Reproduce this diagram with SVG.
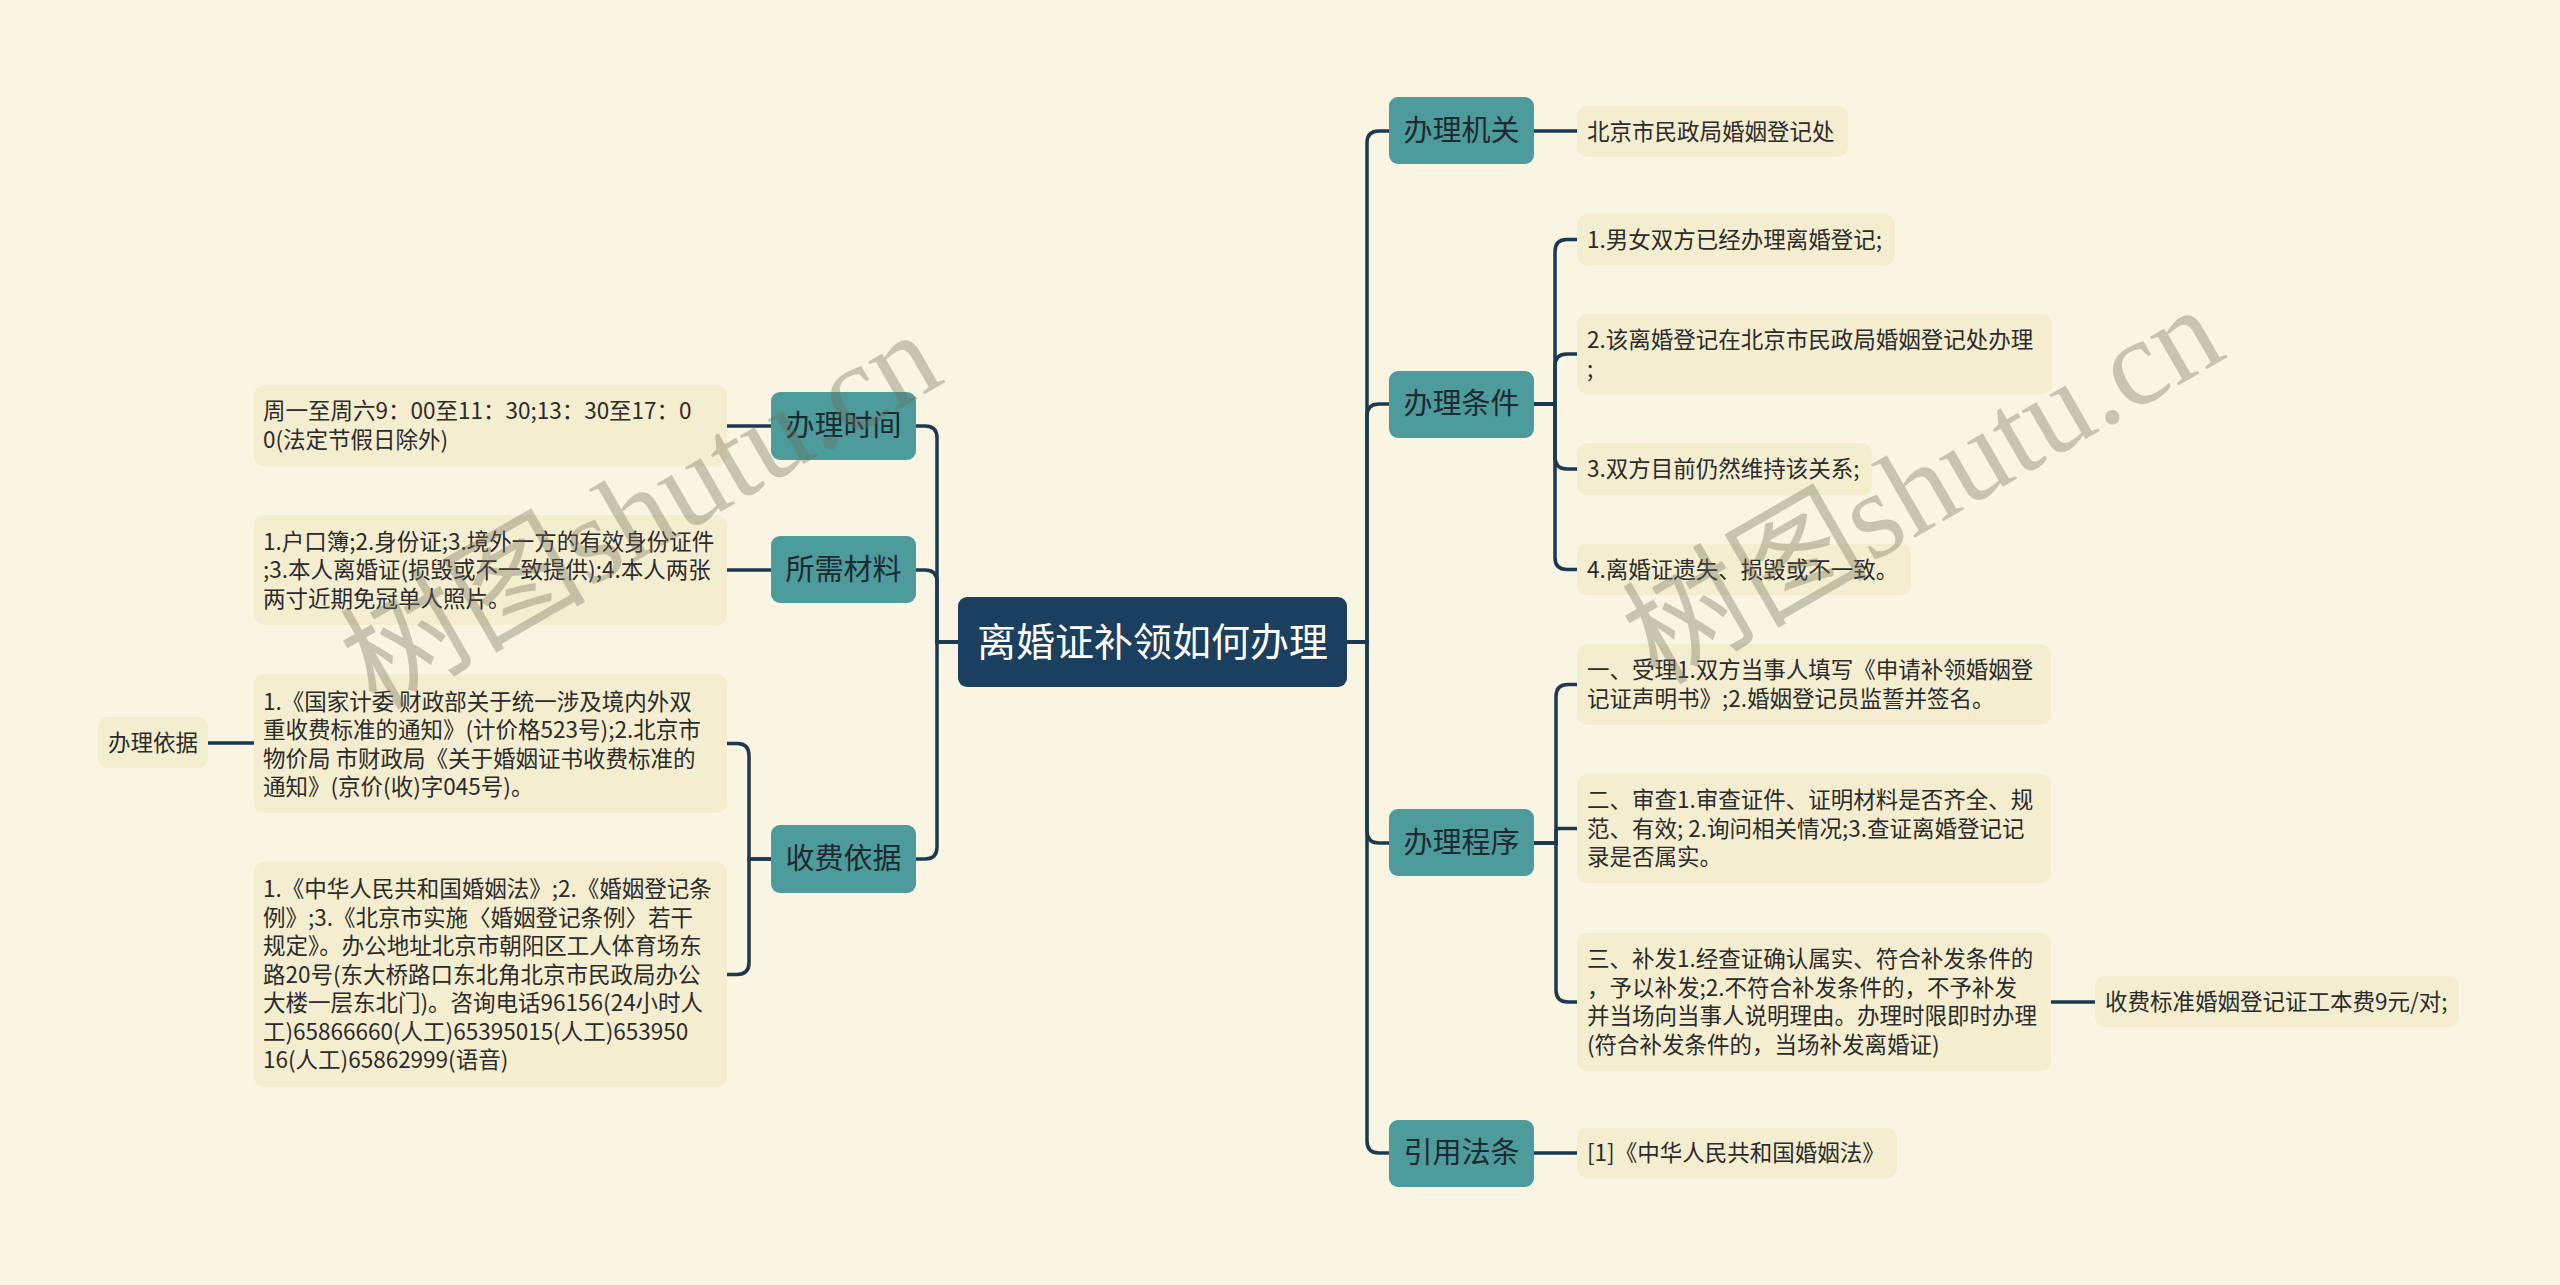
<svg xmlns="http://www.w3.org/2000/svg" width="2560" height="1285" viewBox="0 0 2560 1285">
<style>
.bg{fill:#faf5e2}
.root rect{fill:#1b3f5f}
.root text{fill:#ffffff;font-size:39px;text-anchor:middle}
.br rect{fill:#4d9b9b}
.br text{fill:#1e2a33;font-size:29px;text-anchor:middle}
.lf rect{fill:#f4edcf}
.lf text{fill:#2b2b2b;font-size:22.5px}
text{font-family:"Noto Sans CJK SC","Noto Sans",sans-serif}
.cn path{fill:none;stroke:#1b3a52;stroke-width:3.5;stroke-linecap:round}
.wm{font-family:"Liberation Serif","Noto Sans CJK SC",serif;font-size:123px;fill:#6e6b5a;opacity:0.35}
</style>
<rect class="bg" x="0" y="0" width="2560" height="1285"/>
<g class="cn" id="connectors">
<path d="M958 642 H937 V438 Q937 426 925 426 H916"/>
<path d="M958 642 H937 V582 Q937 570 925 570 H916"/>
<path d="M958 642 H937 V847 Q937 859 925 859 H916"/>
<path d="M771 426 H727"/>
<path d="M771 570 H727"/>
<path d="M771 859 H749 V755.5 Q749 743.5 737 743.5 H727"/>
<path d="M771 859 H749 V962.5 Q749 974.5 737 974.5 H727"/>
<path d="M254 743 H208"/>
<path d="M1347 642 H1367 V143 Q1367 131 1379 131 H1389"/>
<path d="M1347 642 H1367 V416 Q1367 404 1379 404 H1389"/>
<path d="M1347 642 H1367 V831 Q1367 843 1379 843 H1389"/>
<path d="M1347 642 H1367 V1141 Q1367 1153 1379 1153 H1389"/>
<path d="M1534 131 H1577"/>
<path d="M1534 404 H1555 V251.5 Q1555 239.5 1567 239.5 H1577"/>
<path d="M1534 404 H1555 V366 Q1555 354 1567 354 H1577"/>
<path d="M1534 404 H1555 V457 Q1555 469 1567 469 H1577"/>
<path d="M1534 404 H1555 V557.5 Q1555 569.5 1567 569.5 H1577"/>
<path d="M1534 843 H1556 V696.5 Q1556 684.5 1568 684.5 H1577"/>
<path d="M1534 843 H1556 V831 Q1556 828.5 1559 828.5 H1577"/>
<path d="M1534 843 H1556 V990 Q1556 1002 1568 1002 H1577"/>
<path d="M1534 1153 H1577"/>
<path d="M2051 1002 H2095"/>
</g>
<g class="root" id="n-root"><rect x="958" y="597" width="389" height="90" rx="9"/><text x="1152.5" y="656">离婚证补领如何办理</text></g>
<g class="br" id="n-time"><rect x="771" y="392" width="145" height="68" rx="9"/><text x="843.5" y="436">办理时间</text></g>
<g class="br" id="n-mat"><rect x="771" y="536" width="145" height="67" rx="9"/><text x="843.5" y="580">所需材料</text></g>
<g class="br" id="n-fee"><rect x="771" y="825" width="145" height="68" rx="9"/><text x="843.5" y="869">收费依据</text></g>
<g class="br" id="n-org"><rect x="1389" y="97" width="145" height="67" rx="9"/><text x="1461.5" y="141">办理机关</text></g>
<g class="br" id="n-cond"><rect x="1389" y="371" width="145" height="67" rx="9"/><text x="1461.5" y="414">办理条件</text></g>
<g class="br" id="n-proc"><rect x="1389" y="809" width="145" height="67" rx="9"/><text x="1461.5" y="853">办理程序</text></g>
<g class="br" id="n-law"><rect x="1389" y="1120" width="145" height="67" rx="9"/><text x="1461.5" y="1163">引用法条</text></g>
<g class="lf" id="l-time"><rect x="254" y="385" width="473" height="81" rx="10"/><text x="263"><tspan x="263" y="419">周一至周六9：00至11：30;13：30至17：0</tspan><tspan x="263" y="448">0(法定节假日除外)</tspan></text></g>
<g class="lf" id="l-mat"><rect x="254" y="515" width="473" height="110" rx="10"/><text><tspan x="263" y="549.5">1.户口簿;2.身份证;3.境外一方的有效身份证件</tspan><tspan x="263" y="578">;3.本人离婚证(损毁或不一致提供);4.本人两张</tspan><tspan x="263" y="606.5">两寸近期免冠单人照片。</tspan></text></g>
<g class="lf" id="l-fee1"><rect x="254" y="674" width="473" height="139" rx="10"/><text><tspan x="263" y="709.5">1.《国家计委 财政部关于统一涉及境内外双</tspan><tspan x="263" y="738">重收费标准的通知》(计价格523号);2.北京市</tspan><tspan x="263" y="766.5">物价局 市财政局《关于婚姻证书收费标准的</tspan><tspan x="263" y="795">通知》(京价(收)字045号)。</tspan></text></g>
<g class="lf" id="l-basis"><rect x="98" y="717" width="110" height="51" rx="10"/><text x="153" y="751" text-anchor="middle">办理依据</text></g>
<g class="lf" id="l-fee2"><rect x="254" y="862" width="473" height="225" rx="10"/><text><tspan x="263" y="897">1.《中华人民共和国婚姻法》;2.《婚姻登记条</tspan><tspan x="263" y="925.5">例》;3.《北京市实施〈婚姻登记条例〉若干</tspan><tspan x="263" y="954">规定》。办公地址北京市朝阳区工人体育场东</tspan><tspan x="263" y="982.5">路20号(东大桥路口东北角北京市民政局办公</tspan><tspan x="263" y="1011">大楼一层东北门)。咨询电话96156(24小时人</tspan><tspan x="263" y="1039.5">工)65866660(人工)65395015(人工)653950</tspan><tspan x="263" y="1068">16(人工)65862999(语音)</tspan></text></g>
<g class="lf" id="l-org"><rect x="1577" y="106" width="271" height="51" rx="10"/><text x="1587" y="139.5">北京市民政局婚姻登记处</text></g>
<g class="lf" id="l-c1"><rect x="1577" y="214" width="318" height="51" rx="10"/><text x="1587" y="247.5">1.男女双方已经办理离婚登记;</text></g>
<g class="lf" id="l-c2"><rect x="1577" y="314" width="475" height="80" rx="10"/><text><tspan x="1587" y="348">2.该离婚登记在北京市民政局婚姻登记处办理</tspan><tspan x="1587" y="376.5">;</tspan></text></g>
<g class="lf" id="l-c3"><rect x="1577" y="443" width="295" height="52" rx="10"/><text x="1587" y="477">3.双方目前仍然维持该关系;</text></g>
<g class="lf" id="l-c4"><rect x="1577" y="544" width="334" height="51" rx="10"/><text x="1587" y="577.5">4.离婚证遗失、损毁或不一致。</text></g>
<g class="lf" id="l-p1"><rect x="1577" y="644" width="474" height="81" rx="10"/><text><tspan x="1587" y="678">一、受理1.双方当事人填写《申请补领婚姻登</tspan><tspan x="1587" y="706.5">记证声明书》;2.婚姻登记员监誓并签名。</tspan></text></g>
<g class="lf" id="l-p2"><rect x="1577" y="774" width="474" height="109" rx="10"/><text><tspan x="1587" y="808">二、审查1.审查证件、证明材料是否齐全、规</tspan><tspan x="1587" y="836.5">范、有效; 2.询问相关情况;3.查证离婚登记记</tspan><tspan x="1587" y="865">录是否属实。</tspan></text></g>
<g class="lf" id="l-p3"><rect x="1577" y="933" width="474" height="138" rx="10"/><text><tspan x="1587" y="967">三、补发1.经查证确认属实、符合补发条件的</tspan><tspan x="1587" y="995.5">，予以补发;2.不符合补发条件的，不予补发</tspan><tspan x="1587" y="1024">并当场向当事人说明理由。办理时限即时办理</tspan><tspan x="1587" y="1052.5">(符合补发条件的，当场补发离婚证)</tspan></text></g>
<g class="lf" id="l-feestd"><rect x="2095" y="976" width="364" height="51" rx="10"/><text x="2105" y="1009.5">收费标准婚姻登记证工本费9元/对;</text></g>
<g class="lf" id="l-law"><rect x="1577" y="1128" width="320" height="50" rx="10"/><text x="1587" y="1161">[1]《中华人民共和国婚姻法》</text></g>
<text class="wm" transform="translate(376 711) rotate(-30)">树图shutu.cn</text>
<text class="wm" transform="translate(1658 686) rotate(-30)">树图shutu.cn</text>
</svg>
